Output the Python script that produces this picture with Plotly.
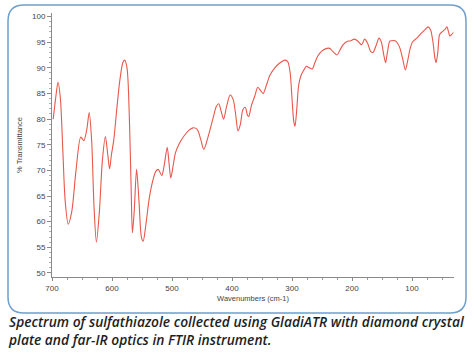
import plotly.graph_objects as go

wavenumber = [698, 694, 690, 686, 682, 678, 673, 667, 660, 652, 647, 642, 638, 634, 630, 626,
              621, 616, 611, 607, 604, 601, 597, 592, 587, 582, 579, 575, 571, 568, 566, 563,
              559, 555, 551, 548, 544, 538, 532, 527, 523, 517, 513, 508, 505, 502, 498, 494,
              488, 480, 472, 465, 458, 452, 447, 440, 432, 426, 422, 418, 414, 409, 403, 398,
              394, 390, 386, 382, 378, 374, 372, 368, 362, 357, 352, 348, 343, 337, 330, 323,
              316, 311, 307, 303, 300, 297, 295, 292, 289, 285, 280, 276, 271, 266, 262, 257,
              250, 242, 237, 232, 225, 220, 215, 209, 202, 196, 190, 184, 179, 174, 169, 165,
              160, 155, 151, 147, 144, 141, 137, 134, 128, 124, 120, 116, 111, 107, 103, 99,
              92, 84, 78, 73, 69, 65, 62, 60, 57, 54, 50, 45, 42, 39, 37, 34, 31]
transmittance = [80.0, 84.0, 87.2, 84.0, 74.0, 64.0, 59.5, 62.0, 70.0, 76.5, 75.8, 78.0, 81.3, 76.0, 63.0, 56.0,
                 62.0, 72.0, 76.6, 73.0, 70.3, 73.0, 76.0, 82.0, 87.5, 91.0, 91.5, 90.0, 80.0, 66.0, 57.8, 62.0,
                 70.2, 64.0, 57.0, 56.2, 59.0, 64.5, 68.0, 69.8, 70.2, 69.0, 71.0, 74.5, 71.5, 68.5, 71.0, 73.5,
                 75.2, 76.7, 77.8, 78.3, 78.0, 76.0, 74.1, 76.5, 80.0, 82.5, 83.0, 81.5, 80.0, 82.5, 84.7, 83.8,
                 81.0, 77.7, 79.0, 81.8, 82.3, 80.7, 80.5, 82.5, 84.5, 86.2, 85.5, 85.0, 86.5, 88.5, 89.8, 90.7,
                 91.3, 91.5, 91.2, 89.0, 84.0, 79.5, 78.6, 82.0, 86.5, 88.5, 89.6, 90.3, 90.0, 89.8, 91.0, 92.3,
                 93.3, 93.8, 93.8, 93.2, 92.5, 93.5, 94.5, 95.1, 95.3, 95.6, 95.2, 94.5, 95.6, 94.8, 93.2, 93.0,
                 94.3, 95.8, 95.0, 92.5, 91.0, 93.0, 95.2, 95.3, 95.3, 94.8, 93.8, 92.0, 89.6, 91.5, 93.8, 95.1,
                 95.8, 96.8, 97.5, 98.0, 97.4, 95.0, 92.0, 91.0, 93.0, 96.5, 97.0, 97.5, 98.0, 97.0, 96.2, 96.5, 96.9]

x_ticks = [700, 600, 500, 400, 300, 200, 100]
y_ticks = [50, 55, 60, 65, 70, 75, 80, 85, 90, 95, 100]

x_title = "Wavenumbers (cm-1)"
y_title = "% Transmittance"
caption = ("Spectrum of sulfathiazole collected using GladiATR with diamond crystal<br>"
           "plate and far-IR optics in FTIR instrument.")

fig = go.Figure()
fig.add_trace(go.Scatter(
    x=wavenumber, y=transmittance, mode="lines",
    line=dict(color="#e8574c", width=1.1, shape="spline", smoothing=0.8),
    hoverinfo="skip", showlegend=False,
))

W, H = 474, 357
L, R, T, B = 52, 20, 13, 80
pw, ph = W - L - R, H - T - B


def px(x):
    return (x - L) / pw


def py(y):
    return (H - B - y) / ph


def pt(x, y):
    return f"{px(x):.5f},{py(y):.5f}"


x0, x1, y0, y1, r = 8, 466, 5, 313, 16
path = (
    f"M {pt(x0 + r, y0)} L {pt(x1 - r, y0)} Q {pt(x1, y0)} {pt(x1, y0 + r)} "
    f"L {pt(x1, y1 - r)} Q {pt(x1, y1)} {pt(x1 - r, y1)} "
    f"L {pt(x0 + r, y1)} Q {pt(x0, y1)} {pt(x0, y1 - r)} "
    f"L {pt(x0, y0 + r)} Q {pt(x0, y0)} {pt(x0 + r, y0)} Z"
)

fig.add_shape(type="path", path=path, xref="paper", yref="paper",
              line=dict(color="#6f9fcc", width=1.5), layer="above")

fig.add_annotation(
    text=caption, x=px(6), y=py(310), xref="paper", yref="paper",
    xanchor="left", yanchor="top", align="left", showarrow=False,
    font=dict(family="Open Sans", size=13.8, color="#1e1e1e", style="italic", weight=600),
)

axis_font = dict(family="Arial, Liberation Sans", size=8, color="#444")

fig.update_layout(
    width=W, height=H,
    margin=dict(l=L, r=R, t=T, b=B),
    paper_bgcolor="white", plot_bgcolor="white",
    xaxis=dict(
        range=[700, 30], tickvals=x_ticks, ticktext=[str(v) for v in x_ticks],
        showgrid=False, zeroline=False, showline=True, linecolor="#8a8a8a", linewidth=1,
        ticks="outside", ticklen=3, tickcolor="#8a8a8a", tickfont=axis_font,
        minor=dict(dtick=25, tick0=0, ticks="outside", ticklen=2, tickcolor="#9a9a9a", showgrid=False),
        title=dict(text=x_title, font=dict(family="Arial, Liberation Sans", size=7.5, color="#444"), standoff=4),
    ),
    yaxis=dict(
        range=[49.2, 100.7], tickvals=y_ticks, ticktext=[str(v) for v in y_ticks],
        showgrid=False, zeroline=False, showline=True, linecolor="#8a8a8a", linewidth=1,
        ticks="outside", ticklen=4, tickcolor="#8a8a8a", tickfont=axis_font,
        minor=dict(dtick=1, tick0=0, ticks="outside", ticklen=2, tickcolor="#b0b0b0", showgrid=False),
        title=dict(text=y_title, font=dict(family="Arial, Liberation Sans", size=7.5, color="#444"), standoff=8),
    ),
)

fig.write_html("out.html", config={"displayModeBar": False},
               post_script="document.body.style.margin='0';")
